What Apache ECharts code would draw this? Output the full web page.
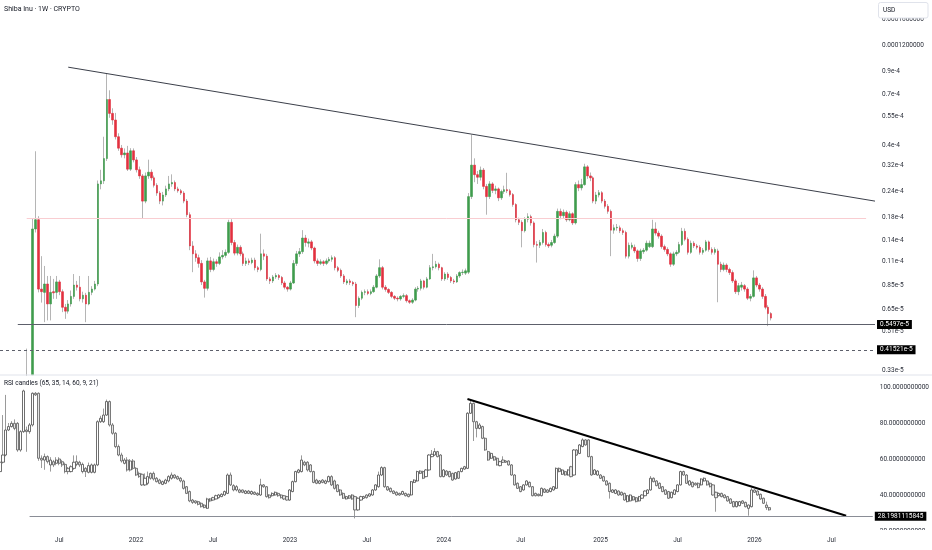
<!DOCTYPE html>
<html>
<head>
<meta charset="utf-8">
<script src="https://cdn.jsdelivr.net/npm/echarts@6/dist/echarts.min.js"></script>
<style>html,body{margin:0;padding:0;background:#fff}#c{width:932px;height:550px}</style>
</head>
<body>
<div id="c"></div>
<script>
// ---- weekly categories ----
const startWeek = [2021, 1, 15];   // Monday 15 Feb 2021 (UTC)
const weekCount = 296;             // visible weekly slots

// ---- price candles, micro-USD (1 = 1e-6 USD), rows = [open, close, low, high] ----
// (the earliest weeks sit below the visible price range; their off-chart parts are set just under the pane floor)
const price2021 = [null,null,null,null,null,null,null,null,null,
[3.12,3.15,3.12,4.21],null,[3.15,15.8,3.15,17.8],[15.8,17.5,15.2,37.3],[17.5,8.13,7.84,18.2],[8.13,7.9,7.0,11.7],
[7.84,8.6,5.64,10.5],[8.6,6.9,5.75,9.4],[6.9,7.84,5.75,9.4],[7.9,7.8,7.3,9.1],[7.84,8.8,7.3,9.4],[8.8,7.9,7.6,9.0],
[7.9,6.65,6.3,8.1],[6.65,6.37,5.85,6.9],[6.37,6.9,6.2,7.2],[6.9,7.5,6.7,8.0],[7.5,8.5,7.3,9.6],[8.5,8.3,8.0,8.9],
[8.3,7.3,7.1,9.4],[7.3,7.6,7.0,7.9],[7.6,6.9,5.64,7.8],[6.9,7.84,6.8,9.4],[7.84,8.13,7.6,8.4],[8.13,8.6,8.0,8.9],
[8.6,26.0,8.4,27.0],[26.0,26.9,24.5,30.4],[26.9,34.4,26.0,43.8],[34.4,66.1,33.5,88.0],[66.1,56.7,54.0,73.2],
[56.7,52.7,50.0,60.0],[52.7,43.8,42.5,57.0],[43.8,38.6,37.5,45.5],[38.6,35.9,34.8,40.0],[35.9,36.6,34.5,38.5],
[36.6,30.6,30.0,39.6],[30.6,37.5,30.0,38.6],[37.5,33.9,33.0,38.5]];
const price2022 = [[33.9,30.4,29.5,35.0],[30.4,28.4,27.5,31.5],[28.4,21.5,17.8,29.0],[21.5,28.4,21.0,29.5],
[28.4,29.6,27.5,34.0],[29.6,27.8,27.0,30.5],[27.8,25.6,25.0,28.5],[25.6,23.5,22.8,26.2],[23.5,21.5,20.8,24.0],
[21.5,23.0,20.5,23.8],[23.0,24.6,22.5,25.5],[24.6,26.0,24.0,28.4],[26.0,26.4,25.2,28.9],[26.4,24.6,24.0,27.0],
[24.6,24.1,23.6,25.2],[24.1,23.5,23.0,24.6],[23.5,21.5,21.0,24.0],[21.5,18.5,18.0,22.0],[18.5,13.1,12.5,19.0],
[13.1,12.0,9.8,13.8],[12.0,11.5,11.0,12.5],[11.5,10.8,10.3,11.9],[10.8,8.8,8.5,11.2],[8.8,8.2,7.4,9.0],
[8.2,11.1,8.0,11.5],[11.1,10.1,9.8,11.6],[10.1,11.0,9.9,11.4],[11.0,10.8,10.4,11.3],[10.8,11.6,10.6,12.2],
[11.6,11.8,11.3,12.5],[11.8,12.2,11.5,12.6],[12.2,17.0,12.0,17.5],[17.0,13.6,13.2,17.6],[13.6,12.1,11.8,14.0],
[12.1,12.9,11.8,13.3],[12.9,12.0,11.7,13.2],[12.0,10.8,10.5,12.3],[10.8,11.1,10.5,11.5],[11.1,10.9,10.6,11.4],
[10.9,11.2,10.7,11.5],[11.2,10.3,10.0,11.5],[10.3,10.1,9.8,10.5],[10.1,12.0,9.9,15.0],[12.0,11.7,11.2,12.6],
[11.7,9.1,8.9,12.0],[9.1,8.9,8.6,9.3],[8.9,9.3,8.7,9.5],[9.3,9.45,9.1,9.7],[9.45,9.25,9.0,9.6],[9.25,8.7,8.5,9.4],
[8.7,8.3,8.1,8.9],[8.3,8.13,7.9,8.4]];
const price2023 = [[8.13,8.7,8.0,8.9],[8.7,10.8,8.6,11.2],[10.8,12.0,10.5,12.4],[12.0,12.3,11.6,12.8],
[12.3,14.3,12.0,15.6],[14.3,13.6,13.0,14.8],[13.5,13.7,12.9,14.2],[13.7,12.8,12.5,14.0],[12.8,11.1,10.8,13.0],
[11.1,10.8,10.5,11.4],[10.8,11.0,10.6,11.3],[11.0,10.8,10.5,11.2],[10.8,11.1,10.6,11.4],[11.1,11.3,10.9,11.6],
[11.3,11.5,11.0,11.8],[11.5,10.3,10.0,11.7],[10.3,10.0,9.8,10.5],[10.0,9.4,9.2,10.2],[9.4,8.8,8.6,9.6],
[8.7,8.9,8.5,9.1],[8.9,8.75,8.5,9.1],[8.75,8.6,8.4,8.9],[8.6,6.78,5.96,8.8],[6.78,7.35,6.6,7.5],[7.35,7.84,7.2,8.0],
[7.84,7.9,7.6,8.1],[7.9,7.75,7.6,8.1],[7.75,7.9,7.6,8.1],[7.9,8.3,7.8,8.5],[8.3,9.4,8.2,9.6],[9.4,10.3,9.2,11.3],
[10.3,8.3,8.1,10.5],[8.3,8.1,7.9,8.5],[8.1,7.84,7.7,8.2],[7.84,7.5,7.35,7.95],[7.5,7.35,7.2,7.6],[7.35,7.29,7.1,7.5],
[7.29,7.5,7.15,7.6],[7.5,7.56,7.35,7.75],[7.56,7.15,7.0,7.7],[7.15,7.03,6.9,7.25],[7.03,7.2,6.9,7.35],
[7.2,8.13,7.1,8.3],[8.13,8.2,7.9,8.4],[8.2,8.9,8.0,9.1],[8.9,8.3,8.1,9.0],[8.3,9.1,8.2,9.3],[9.1,10.3,9.0,10.6],
[10.3,10.4,10.0,12.0],[10.4,10.7,10.2,11.1],[10.7,10.3,10.0,10.9],[10.3,9.1,8.9,10.4]];
const price2024 = [[9.1,9.6,8.9,9.8],[9.6,9.25,9.0,9.8],[9.25,8.9,8.7,9.4],[8.9,8.8,8.6,9.1],[8.8,9.4,8.7,9.6],
[9.4,9.76,9.2,9.9],[9.76,9.8,9.5,10.1],[9.7,9.95,9.5,10.2],[9.8,22.6,9.6,23.5],[22.6,32.0,22.0,45.0],
[32.0,28.8,26.5,34.5],[28.8,28.0,26.0,30.0],[28.0,30.3,27.0,31.5],[30.3,25.3,24.5,31.0],[25.3,22.6,18.5,26.0],
[22.6,26.0,22.0,26.8],[26.0,24.2,23.5,26.5],[24.2,24.6,23.2,25.5],[24.6,22.3,21.5,25.0],[22.3,23.9,21.8,24.4],
[23.9,24.4,23.3,25.5],[24.4,24.1,23.5,29.4],[24.1,23.1,22.6,24.6],[23.1,20.7,20.2,23.5],[20.7,17.5,17.0,21.0],
[17.5,17.0,16.5,17.9],[17.0,15.5,12.9,17.4],[15.5,17.6,15.2,18.0],[17.6,18.1,17.0,18.8],[18.1,16.9,16.4,18.5],
[16.9,13.3,12.9,17.2],[13.3,13.2,10.9,13.8],[13.2,13.6,12.8,14.0],[13.6,15.2,13.3,15.8],[15.2,13.3,13.0,15.5],
[13.3,13.1,12.8,13.6],[13.2,13.6,12.9,14.0],[13.6,14.6,13.4,15.0],[14.6,19.2,14.3,19.8],[19.2,18.3,17.6,19.8],
[18.3,19.0,17.8,19.6],[19.0,17.5,17.1,19.4],[17.5,18.7,17.2,19.2],[18.7,16.9,16.5,19.0],[16.9,25.8,16.6,26.5],
[25.8,24.9,24.0,27.0],[24.9,25.8,24.2,27.5],[25.8,31.4,25.5,32.5],[31.4,28.4,27.5,32.0],[28.4,27.8,26.8,29.5],
[27.8,21.5,21.0,28.3],[21.5,23.0,20.8,23.8],[23.0,23.6,22.4,24.3]];
const price2025 = [[23.6,21.5,21.0,24.0],[21.5,20.3,19.8,22.0],[20.3,19.2,18.7,20.8],[19.2,15.6,11.7,19.6],
[15.6,16.0,15.0,16.6],[16.0,16.1,15.5,16.7],[16.0,15.5,15.1,16.4],[15.5,15.2,14.8,15.9],[15.2,11.7,11.4,15.5],
[11.7,13.2,11.4,13.6],[12.9,13.2,12.6,13.6],[12.9,12.4,12.1,13.3],[12.4,11.4,11.0,12.6],[11.4,12.4,11.1,12.7],
[12.3,12.5,12.0,12.8],[12.5,13.5,12.3,13.9],[13.0,13.5,12.8,13.9],[13.0,15.8,12.8,17.5],[15.8,15.1,14.7,17.0],
[15.1,14.6,14.2,15.5],[14.6,13.0,12.7,14.9],[13.0,12.6,12.3,13.3],[12.6,12.0,11.7,12.9],[12.0,10.7,10.4,12.2],
[10.7,12.0,10.5,12.3],[12.0,12.2,11.7,12.5],[12.2,13.3,12.0,13.7],[13.3,15.4,13.1,16.0],[15.4,14.1,13.8,15.9],
[14.1,12.2,11.9,14.4],[12.2,13.5,12.0,13.9],[13.5,13.1,12.8,13.8],[13.1,12.9,12.6,13.4],[12.9,12.2,11.9,13.2],
[12.2,12.5,11.9,12.8],[12.5,13.7,12.3,14.0],[13.7,12.6,12.3,13.9],[12.6,12.2,11.9,12.9],[12.2,12.6,11.9,12.9],
[12.4,10.7,7.03,12.7],[10.7,10.1,9.8,11.0],[10.1,10.6,9.9,10.9],[10.6,10.1,9.8,10.8],[10.1,9.76,9.5,10.3],
[9.76,8.9,8.7,10.0],[8.9,7.9,7.7,9.1],[7.9,8.44,7.6,8.7],[8.3,8.5,8.0,8.8],[8.44,8.13,7.9,8.6],[8.13,7.35,7.2,8.3],
[7.35,7.5,7.1,7.7],[7.5,9.2,7.4,10.0]];
const price2026 = [[9.2,8.5,8.3,9.4],[8.5,8.13,7.9,8.7],[8.13,7.5,7.3,8.3],[7.5,6.65,6.5,7.7],[6.65,6.2,5.4,6.8],[6.2,5.9,5.75,6.3]];

// ---- RSI candles, rows = [open, close, low, high] ----
const rsi2021 = [[53.0,58.2,52.5,70.0],[58.2,62.2,57.5,84.4],[62.2,76.1,61.5,95.6],[76.1,78.0,75.5,80.0],
[78.0,79.8,77.5,81.0],[79.8,77.0,76.0,82.0],[79.8,65.0,64.0,80.5],[65.0,75.2,64.0,76.0],[75.2,97.8,74.5,98.5],
[76.1,75.2,64.0,78.0],[75.2,78.9,74.0,80.0],[78.9,96.5,78.0,97.0],[96.5,95.6,95.0,97.2],[96.5,60.4,59.0,97.0],
[60.4,59.4,55.0,62.0],[59.4,61.3,54.0,63.0],[61.3,58.5,57.5,62.0],[56.7,59.4,53.0,61.0],[58.5,56.7,55.5,59.5],
[57.6,59.4,56.5,61.0],[60.0,57.6,56.5,61.0],[58.5,56.7,55.5,59.5],[57.0,53.0,52.0,58.0],[54.8,53.0,51.5,55.5],
[53.0,55.7,52.5,56.5],[54.8,58.2,54.0,62.0],[58.5,57.0,56.0,62.0],[58.2,56.7,55.5,59.0],[53.0,57.0,52.0,58.0],
[54.8,53.0,50.0,55.5],[52.6,56.3,52.0,58.0],[52.6,56.7,52.0,57.5],[52.6,56.7,52.0,57.5],[56.7,80.7,56.0,81.5],
[80.7,82.6,80.0,84.0],[80.7,84.4,80.0,88.0],[84.4,91.9,84.0,93.0],[91.9,78.9,78.0,92.5],[78.9,74.3,73.5,80.0],
[74.3,66.9,66.0,75.0],[66.9,62.2,61.5,68.0],[62.2,58.9,58.0,63.5],[57.6,59.4,57.0,60.5],[59.4,53.9,53.0,61.0],
[53.9,58.9,53.0,60.0],[58.9,54.8,54.0,60.0]];
const rsi2022 = [[54.8,51.1,50.5,55.5],[52.0,50.2,49.5,53.0],[51.5,45.6,45.0,52.0],[45.6,49.3,45.0,52.0],
[46.5,50.2,45.5,53.0],[52.0,49.3,48.5,52.5],[52.0,48.9,48.0,53.0],[49.3,47.4,47.0,50.0],[48.3,46.5,46.0,49.0],
[45.9,47.4,45.5,48.0],[46.5,48.3,46.0,49.0],[47.8,50.2,47.0,51.0],[49.3,51.1,48.5,52.5],[51.1,49.6,49.0,51.5],
[50.2,48.9,48.5,50.8],[49.3,47.8,47.0,50.0],[47.8,43.7,43.0,48.5],[44.6,40.9,40.5,45.0],[41.9,36.7,36.0,42.5],
[37.2,35.9,35.0,37.8],[36.7,35.7,35.0,37.0],[36.3,34.8,34.2,36.8],[35.4,33.5,33.0,36.0],[34.4,33.0,32.6,35.0],
[32.6,37.8,32.3,38.5],[37.8,36.7,36.0,38.3],[37.2,38.5,36.8,39.0],[37.8,39.6,37.5,40.2],[38.5,40.0,38.0,40.6],
[39.1,40.4,38.8,41.0],[40.0,41.9,39.5,42.5],[40.9,51.1,40.5,52.0],[51.1,45.6,45.0,52.5],[45.2,42.8,42.0,46.0],
[42.8,44.6,42.0,45.5],[42.8,41.5,41.0,43.5],[42.8,41.5,41.0,43.0],[40.9,42.2,40.5,42.8],[42.2,40.9,40.5,42.8],
[40.6,41.9,40.0,42.5],[41.5,40.4,40.0,42.0],[40.9,40.0,39.5,41.5],[40.0,45.6,39.5,49.0],[45.6,44.6,44.0,46.0],
[44.6,39.1,38.5,45.0],[40.0,38.5,38.0,40.5],[39.6,40.9,39.0,41.5],[40.0,41.5,39.5,42.0],[40.9,39.6,39.0,41.5],
[40.0,38.5,38.0,40.5],[39.6,37.8,37.2,40.0],[39.1,37.2,36.8,39.5]];
const rsi2023 = [[37.2,42.8,36.8,43.3],[41.9,47.4,41.5,48.0],[47.4,53.0,47.0,53.5],[52.6,53.9,52.0,54.5],
[53.0,59.4,52.5,62.0],[58.2,56.7,56.0,59.0],[58.2,53.9,53.0,58.8],[56.7,53.0,52.5,57.2],[53.0,47.0,46.5,53.5],
[48.3,46.5,46.0,49.0],[46.5,47.8,46.0,48.3],[48.3,47.0,46.5,48.8],[46.5,47.8,46.0,48.5],[47.4,50.2,47.0,50.8],
[50.2,45.6,45.0,51.0],[47.8,43.7,43.0,48.5],[45.6,41.9,41.5,46.0],[42.8,40.0,39.5,43.3],[40.9,38.2,37.8,41.5],
[37.8,39.1,37.5,39.6],[39.6,38.2,37.8,40.0],[40.0,37.8,37.3,40.5],[39.1,31.7,27.0,39.6],[31.7,38.2,31.2,38.7],
[37.2,39.1,36.8,39.6],[38.2,39.1,37.8,39.6],[40.0,38.5,38.0,40.4],[39.4,40.6,39.0,41.0],[40.0,42.8,39.6,43.3],
[42.8,45.6,42.3,46.0],[44.6,51.1,44.0,53.0],[51.1,55.2,50.5,56.0],[55.2,44.6,44.0,55.7],[44.6,42.8,42.3,45.0],
[43.7,41.9,41.4,44.2],[42.2,40.9,40.5,42.6],[41.5,40.0,39.6,42.0],[40.9,40.0,39.6,41.3],[40.4,41.9,40.0,42.4],
[40.9,39.6,39.2,41.3],[40.4,39.1,38.7,40.8],[40.0,47.4,39.6,47.8],[47.0,48.3,46.6,48.8],[47.8,53.0,47.4,53.5],
[53.3,52.0,51.6,53.8],[53.0,49.3,48.8,53.5],[50.2,53.9,49.8,54.4],[53.9,62.2,53.5,62.7],[61.3,62.6,60.9,65.0],
[62.2,64.1,61.8,66.0],[64.1,61.3,60.9,64.5],[62.2,50.2,49.8,62.7]];
const rsi2024 = [[50.2,53.9,49.8,54.4],[53.3,51.1,50.7,53.8],[53.0,50.2,49.8,53.4],[52.0,48.3,47.9,52.4],
[48.9,52.4,48.5,52.8],[53.0,49.3,48.9,53.4],[53.0,54.8,52.6,55.2],[54.4,55.7,54.0,56.2],[54.8,85.4,54.4,86.0],
[85.4,90.9,85.0,93.0],[90.9,80.7,70.0,91.4],[80.7,77.0,72.0,81.2],[77.0,78.9,76.5,80.0],[78.0,71.5,71.0,78.5],
[71.5,65.0,64.5,72.0],[64.1,59.4,59.0,64.6],[60.4,63.1,60.0,63.6],[61.3,59.4,59.0,61.8],[60.4,56.7,56.3,60.9],
[56.3,58.5,55.9,59.0],[58.2,59.4,57.8,61.5],[58.9,58.2,57.8,59.3],[58.9,56.7,56.3,59.3],[56.7,51.1,50.7,57.2],
[51.1,45.6,45.2,51.6],[46.5,43.7,43.3,47.0],[44.6,41.9,41.5,45.0],[42.8,45.6,42.4,46.0],[45.6,47.8,45.2,48.2],
[47.0,44.6,44.2,47.5],[44.6,39.6,39.2,45.0],[40.9,39.6,39.2,41.3],[39.6,40.4,39.2,40.8],[39.6,43.7,39.2,44.2],
[43.3,41.5,41.1,43.8],[42.8,41.5,41.1,43.2],[41.9,43.7,41.5,44.2],[42.8,44.6,42.4,45.0],[43.7,54.8,43.3,55.3],
[54.8,53.0,52.6,55.3],[51.5,53.9,51.1,54.4],[53.0,51.1,50.7,53.5],[51.1,53.9,50.7,54.4],[55.7,50.2,49.8,56.2],
[51.1,65.0,50.7,65.5],[65.0,62.2,61.8,65.5],[63.1,67.8,62.7,68.3],[66.9,70.6,66.5,71.5],[70.6,67.8,67.4,71.0],
[70.6,61.3,60.9,71.0],[61.3,51.1,50.7,61.8],[51.5,53.9,51.1,54.4],[51.1,53.3,50.7,53.8]];
const rsi2025 = [[51.1,49.3,48.9,51.6],[50.2,47.8,47.4,50.7],[47.8,45.6,45.2,48.2],[46.5,41.9,38.0,47.0],
[41.5,42.8,41.1,43.2],[40.9,42.8,40.5,43.2],[42.2,40.0,39.6,42.6],[41.5,40.0,39.6,41.9],[40.9,37.2,36.8,41.3],
[36.3,39.6,35.9,40.0],[36.7,40.0,36.3,40.4],[39.1,37.2,36.8,39.5],[38.5,36.3,35.9,38.9],[36.7,39.1,36.3,39.5],
[38.2,40.0,37.8,40.4],[39.6,42.2,39.2,42.6],[40.9,42.8,40.5,43.2],[42.8,49.3,42.4,50.5],[49.3,47.4,47.0,49.8],
[47.8,45.2,44.8,48.2],[46.5,43.7,43.3,47.0],[44.6,41.9,41.5,45.0],[42.8,40.4,40.0,43.2],[41.9,38.2,37.8,42.3],
[38.5,41.5,38.1,41.9],[40.4,42.8,40.0,43.2],[41.9,45.6,41.5,46.0],[45.6,53.0,45.2,53.5],[53.0,51.1,50.7,53.5],
[51.1,46.5,46.1,51.6],[45.6,47.8,45.2,48.2],[47.0,44.6,44.2,47.5],[46.5,45.6,45.2,47.0],[46.5,44.1,43.7,47.0],
[45.6,48.9,45.2,49.3],[47.8,49.3,47.4,49.8],[47.8,45.6,45.2,48.2],[46.5,44.6,44.2,47.0],[45.6,40.0,39.6,46.0],
[41.5,38.5,30.7,41.9],[39.6,40.9,39.2,41.3],[40.9,39.1,38.7,41.3],[40.0,38.5,38.1,40.4],[39.1,36.7,36.3,39.5],
[37.8,35.4,35.0,38.2],[36.3,33.5,33.1,36.7],[33.5,36.3,33.1,36.7],[34.1,36.3,33.7,36.7],[36.7,35.4,35.0,37.1],
[35.9,33.5,33.1,36.3],[32.6,34.4,28.5,34.8],[33.5,42.8,33.1,44.0]];
const rsi2026 = [[42.8,41.5,41.1,43.2],[42.2,40.0,39.6,42.6],[40.4,37.8,37.4,40.8],[38.2,35.4,35.0,38.6],[34.4,33.0,31.7,36.3],[33.0,31.7,31.3,33.4]];

// ---- axis ticks ----
const priceTickValues = [160, 120, 90, 70, 55, 40, 32, 24, 18, 14, 11, 8.5, 6.5, 5.1, 3.3];
const priceTickLabels = ['0.0001600000','0.0001200000','0.9e-4','0.7e-4','0.55e-4','0.4e-4','0.32e-4','0.24e-4','0.18e-4','0.14e-4','0.11e-4','0.85e-5','0.65e-5','0.51e-5','0.33e-5'];
const rsiTickValues = [20, 40, 60, 80, 100];
const timeLabelWeeks = ['2021-07-05','2022-01-03','2022-07-04','2023-01-02','2023-07-03','2024-01-01','2024-07-01','2025-01-06','2025-07-07','2026-01-05','2026-07-06'];
const timeLabelTexts = ['Jul','2022','Jul','2023','Jul','2024','Jul','2025','Jul','2026','Jul'];

// ---- drawings (x = week slot, y = value) ----
const trendTop = [[23, 94.5], [295, 21.5]];
const resistanceLevel = [[9, 17.8], [292, 17.8]];
const supportLevel = [[6, 5.497], [295, 5.497]];
const supportLabel = '0.5497e-5';
const lowLevel = [[0, 4.1521], [295, 4.1521]];
const lowLabel = '0.41521e-5';
const trendRsi = [[158, 93.3], [285.5, 28.5]];
const rsiLevel = [[10, 28.1981115845], [295, 28.1981115845]];
const rsiLabel = '28.1981115845';

// ---- build ----
const categories = [];
const t0 = Date.UTC(startWeek[0], startWeek[1], startWeek[2]);
for (let i = 0; i < weekCount; i++) {
  categories.push(new Date(t0 + i * 7 * 86400000).toISOString().slice(0, 10));
}
const timeLabelMap = {};
timeLabelWeeks.forEach((w, i) => { timeLabelMap[w] = timeLabelTexts[i]; });

const priceRows = [].concat(price2021, price2022, price2023, price2024, price2025, price2026);
const rsiRows = [].concat(rsi2021, rsi2022, rsi2023, rsi2024, rsi2025, rsi2026);
const full = rows => rows.map(r => r ? r : ['-','-','-','-']);
const bodies = rows => rows.map(r => r ? [r[0], r[1], Math.min(r[0], r[1]), Math.max(r[0], r[1])] : ['-','-','-','-']);

const FONT = 'Roboto, "Liberation Sans", sans-serif';
const TXT = '#2a2e39';
const FS = 6.5;

function fmtPrice(v) {
  for (let i = 0; i < priceTickValues.length; i++) {
    if (Math.abs(v - priceTickValues[i]) / priceTickValues[i] < 1e-6) return priceTickLabels[i];
  }
  return '';
}
const boxLabel = txt => ({
  show: true, position: 'end', formatter: txt, distance: 2,
  color: '#fff', backgroundColor: '#000', padding: [1, 3, 1, 3],
  fontSize: FS, fontFamily: FONT
});
const seg = (pts, style, label) => [
  { coord: pts[0], lineStyle: style, label: label || { show: false } },
  { coord: pts[1] }
];

const chart = echarts.init(document.getElementById('c'), null, { renderer: 'canvas' });
chart.setOption({
  animation: false,
  backgroundColor: '#ffffff',
  grid: [
    { left: 0, top: 0, width: 875, height: 374 },
    { left: 0, top: 376, width: 875, height: 155 }
  ],
  xAxis: [
    { type: 'category', gridIndex: 0, data: categories, boundaryGap: false,
      axisLine: { show: false }, axisTick: { show: false }, axisLabel: { show: false }, splitLine: { show: false } },
    { type: 'category', gridIndex: 1, data: categories, boundaryGap: false,
      axisLine: { show: false }, axisTick: { show: false }, splitLine: { show: false },
      axisLabel: { interval: (i, v) => timeLabelMap[v] !== undefined, formatter: v => timeLabelMap[v] || '',
        fontSize: FS, color: TXT, fontFamily: FONT, margin: 6 } }
  ],
  yAxis: [
    { type: 'log', logBase: 10, gridIndex: 0, position: 'right', min: 3.18, max: 198.6,
      axisLine: { show: false }, axisTick: { show: false }, splitLine: { show: false },
      axisLabel: { customValues: priceTickValues, formatter: fmtPrice, align: 'left', margin: 7,
        fontSize: FS, color: TXT, fontFamily: FONT } },
    { type: 'value', gridIndex: 1, position: 'right', min: 20, max: 106.1,
      axisLine: { show: false }, axisTick: { show: false }, splitLine: { show: false },
      axisLabel: { customValues: rsiTickValues, formatter: v => Number(v).toFixed(10), align: 'left', margin: 7,
        fontSize: FS, color: TXT, fontFamily: FONT } }
  ],
  series: [
    { type: 'candlestick', name: 'wicks', xAxisIndex: 0, yAxisIndex: 0, data: full(priceRows),
      barWidth: 1, clip: true, silent: true,
      itemStyle: { color: '#b5b5b5', color0: '#b5b5b5', borderColor: '#b5b5b5', borderColor0: '#b5b5b5', borderWidth: 1 } },
    { type: 'candlestick', name: 'Shiba Inu', xAxisIndex: 0, yAxisIndex: 0, data: bodies(priceRows),
      barWidth: 2, clip: true, silent: true,
      itemStyle: { color: '#3f9c4d', color0: '#e2313f', borderColor: '#3f9c4d', borderColor0: '#e2313f', borderWidth: 0.6 },
      markLine: { symbol: ['none', 'none'], silent: true, animation: false, label: { show: false },
        data: [
          seg(trendTop, { color: '#3b3f4a', width: 1, type: 'solid' }),
          seg(resistanceLevel, { color: '#f9cdd1', width: 1, type: 'solid' }),
          seg(supportLevel, { color: '#5d606b', width: 1, type: 'solid' }, boxLabel(supportLabel)),
          seg(lowLevel, { color: '#5d606b', width: 1, type: [3, 3] }, boxLabel(lowLabel))
        ] } },
    { type: 'candlestick', name: 'rsi wicks', xAxisIndex: 1, yAxisIndex: 1, data: full(rsiRows),
      barWidth: 1, clip: true, silent: true,
      itemStyle: { color: '#9a9a9a', color0: '#9a9a9a', borderColor: '#9a9a9a', borderColor0: '#9a9a9a', borderWidth: 1 } },
    { type: 'candlestick', name: 'RSI candles', xAxisIndex: 1, yAxisIndex: 1, data: bodies(rsiRows),
      barWidth: 2.6, clip: true, silent: true,
      itemStyle: { color: '#ffffff', color0: '#e4e4e4', borderColor: '#4a4a4a', borderColor0: '#5a5a5a', borderWidth: 0.8 },
      markLine: { symbol: ['none', 'none'], silent: true, animation: false, label: { show: false },
        data: [
          seg(trendRsi, { color: '#000000', width: 2, type: 'solid' }),
          seg(rsiLevel, { color: '#8a8d96', width: 1, type: 'solid' }, boxLabel(rsiLabel))
        ] } }
  ],
  graphic: [
    { type: 'line', shape: { x1: 0, y1: 375, x2: 932, y2: 375 }, style: { stroke: '#e0e3eb', lineWidth: 1 }, z: 50, silent: true },
    { type: 'text', left: 4, top: 6, style: { text: 'Shiba Inu · 1W · CRYPTO', fill: '#131722', fontSize: 7, fontFamily: FONT } },
    { type: 'text', left: 4, top: 380, style: { text: 'RSI candles (65, 35, 14, 60, 9, 21)', fill: '#131722', fontSize: 6.5, fontFamily: FONT } },
    { type: 'rect', shape: { x: 876, y: 530, width: 56, height: 20 }, style: { fill: '#ffffff' }, z: 100, silent: true },
    { type: 'rect', shape: { x: 878.5, y: 2.5, width: 49.5, height: 15.5, r: 2 }, style: { fill: '#ffffff', stroke: '#e0e3eb', lineWidth: 1 }, z: 100, silent: true },
    { type: 'text', x: 883, y: 10.5, style: { text: 'USD', fill: '#131722', fontSize: 6.5, fontFamily: FONT, verticalAlign: 'middle' }, z: 101, silent: true }
  ]
});
</script>
</body>
</html>
